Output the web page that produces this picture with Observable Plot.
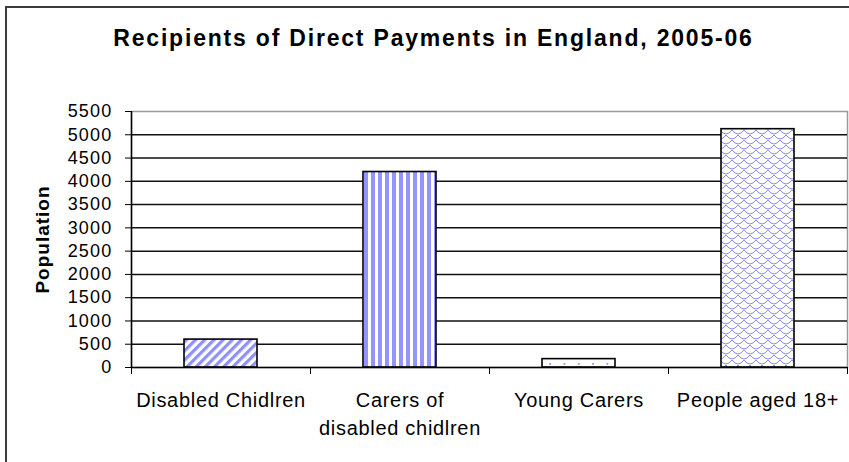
<!DOCTYPE html>
<html>
<head>
<meta charset="utf-8">
<script src="https://cdn.jsdelivr.net/npm/d3@7"></script>
<script src="https://cdn.jsdelivr.net/npm/@observablehq/plot@0.6"></script>
<style>
  html, body { margin: 0; padding: 0; background: #fff; overflow: hidden; }
  #wrap { position: relative; width: 849px; height: 462px; overflow: hidden; }
  #border { position: absolute; left: 5px; top: 6px; width: 900px; height: 520px; border: 2px solid #3c3c3c; pointer-events: none; }
</style>
</head>
<body>
<div id="wrap"><div id="chart"></div><div id="border"></div></div>
<script>
const title = "Recipients of Direct Payments in England, 2005-06";
const yLabel = "Population";
const categories = ["Disabled Chidlren", "Carers of\ndisabled chidlren", "Young Carers", "People aged 18+"];
const values = [600, 4200, 180, 5120];
const yTicks = [0, 500, 1000, 1500, 2000, 2500, 3000, 3500, 4000, 4500, 5000, 5500];
const patternFills = ["url(#pDiag)", "url(#pVert)", "url(#pDots)", "url(#pScale)"];

const rows = categories.map((c, i) => ({i, category: c, value: values[i]}));
const boundaries = d3.range(categories.length + 1);

const font = "'Liberation Sans', Arial, sans-serif";

const chart = Plot.plot({
  width: 849,
  height: 462,
  marginLeft: 131,
  marginRight: 2,
  marginTop: 111,
  marginBottom: 95,
  style: {fontFamily: font, fontSize: "18px", color: "black", background: "transparent"},
  x: {domain: [0, categories.length]},
  y: {domain: [0, 5500]},
  color: {type: "identity"},
  marks: [
    Plot.frame({stroke: "#9a9a9a", strokeWidth: 1.5}),
    Plot.ruleY(yTicks.filter(d => d > 0 && d < 5500), {stroke: "#111", strokeWidth: 1.5}),
    Plot.rectY(rows, {
      x1: "i", x2: d => d.i + 1, y: "value",
      insetLeft: 53, insetRight: 53,
      fill: d => patternFills[d.i],
      stroke: "#000", strokeWidth: 1.6
    }),
    Plot.ruleY([0], {stroke: "#000", strokeWidth: 1.5}),
    Plot.ruleX([0], {stroke: "#000", strokeWidth: 1.5}),
    Plot.axisY({ticks: yTicks, tickSize: 6, tickPadding: 13, fontSize: 18, tickFormat: d => String(d), label: null}),
    Plot.axisX({ticks: boundaries, tickSize: 7, tickFormat: () => "", label: null}),
    Plot.text(rows, {
      x: d => d.i + 0.5, text: "category",
      frameAnchor: "bottom", lineAnchor: "top", dy: 20,
      fontSize: 20, lineHeight: 1.4, fill: "#000"
    }),
    Plot.text([title], {
      frameAnchor: "top", lineAnchor: "top", dy: -82, dx: -56,
      fontSize: 23, fontWeight: "bold", fill: "#000"
    }),
    Plot.text([yLabel], {
      frameAnchor: "left", rotate: -90, dx: -89,
      textAnchor: "middle", lineAnchor: "middle",
      fontSize: 19, fontWeight: "bold", fill: "#000"
    })
  ]
});

const svg = d3.select(chart);
svg.insert("defs", ":first-child").html(`
  <pattern id="pDiag" patternUnits="userSpaceOnUse" width="6.5" height="6.5" patternTransform="rotate(45)">
    <rect width="6.5" height="6.5" fill="#fff"/>
    <rect width="3.2" height="6.5" fill="#8f8fff"/>
  </pattern>
  <pattern id="pVert" patternUnits="userSpaceOnUse" width="7" height="10">
    <rect width="7" height="10" fill="#fff"/>
    <rect width="4" height="10" fill="#9494ff"/>
  </pattern>
  <pattern id="pDots" patternUnits="userSpaceOnUse" width="14.3" height="6">
    <rect width="14.3" height="6" fill="#fff"/>
    <rect x="6" y="3" width="1.6" height="1.6" fill="#7a7aff"/>
  </pattern>
  <pattern id="pScale" patternUnits="userSpaceOnUse" width="12" height="10">
    <rect width="12" height="10" fill="#fff"/>
    <path d="M0 0 Q6 8 12 0 M-6 5 Q0 13 6 5 M6 5 Q12 13 18 5 M0 10 Q6 18 12 10" fill="none" stroke="#8a8aff" stroke-width="1"/>
  </pattern>
`);

const catSet = new Set(categories.map(c => c.replace(/\n/g, "")));
const tickSet = new Set(yTicks.map(String));
svg.selectAll("text").each(function() {
  const t = this.textContent;
  let ls = null;
  if (t === title) ls = "1.8px";
  else if (t === yLabel) ls = "1px";
  else if (catSet.has(t)) ls = "0.7px";
  else if (tickSet.has(t)) ls = "1.2px";
  if (ls) this.style.letterSpacing = ls;
});

document.getElementById("chart").appendChild(chart);
</script>
</body>
</html>
